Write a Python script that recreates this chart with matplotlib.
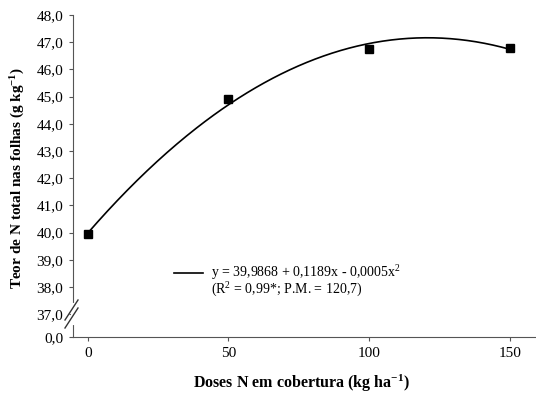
import numpy as np
import matplotlib.pyplot as plt
from matplotlib.lines import Line2D

# dados
doses = np.array([0, 50, 100, 150])
teor_n = np.array([39.95, 44.9, 46.75, 46.8])

# coeficientes da regressao (y = b0 + b1 x - b2 x^2), P.M. = 120,7
b0 = 39.9868
b1 = 0.1189
pm = 120.7
b2 = b1 / (2 * pm)

yticks = [37, 38, 39, 40, 41, 42, 43, 44, 45, 46, 47, 48]
ybase = 36.16  # posicao do 0,0 (eixo quebrado)

plt.rcParams['font.family'] = ['Liberation Serif', 'DejaVu Serif']
plt.rcParams['mathtext.fontset'] = 'custom'
plt.rcParams['mathtext.rm'] = 'Liberation Serif'
plt.rcParams['mathtext.it'] = 'Liberation Serif:italic'
plt.rcParams['mathtext.bf'] = 'Liberation Serif:bold'

W, H = 536, 396
fig = plt.figure(figsize=(W / 100, H / 100), dpi=100)
ax = fig.add_axes([73 / W, 1 - 337 / H, 462 / W, 322 / H])

xc = np.linspace(0, 150, 300)
ax.plot(xc, b0 + b1 * xc - b2 * xc ** 2, color='black', lw=1.2)
ax.plot(doses, teor_n, 's', color='black', ms=6)

ax.set_xlim(-5.3, 159)
ax.set_ylim(ybase, 48)
ax.set_xticks([0, 50, 100, 150])
ax.set_yticks([ybase] + yticks)
ax.set_yticklabels(['0,0'] + [('%.1f' % v).replace('.', ',') for v in yticks])
ax.tick_params(labelsize=11, direction='out', length=3, color='#555555', pad=4)
for s in ['top', 'right']:
    ax.spines[s].set_visible(False)
for s in ['left', 'bottom']:
    ax.spines[s].set_color('#555555')


def fpt(x, y):
    return x / W, 1 - y / H


# marca de quebra no eixo y
gx, gy = zip(fpt(73, 305), fpt(73, 323))
fig.add_artist(Line2D(gx, gy, color='white', lw=3, transform=fig.transFigure, zorder=5))
for off in [0, 8]:
    lx, ly = zip(fpt(65, 320 + off), fpt(78, 300 + off))
    fig.add_artist(Line2D(lx, ly, color='#333333', lw=1, transform=fig.transFigure, zorder=6))

fig.text(301 / W, 1 - 383 / H, 'Doses N em cobertura (kg ha$^{\\mathbf{-1}}$)',
         fontweight='bold', fontsize=11.5, ha='center', va='center')
fig.text(18 / W, 1 - 178 / H, 'Teor de N total nas folhas (g kg$^{\\mathbf{-1}}$)',
         fontweight='bold', fontsize=11, ha='center', va='center', rotation=90)

# legenda
lx, ly = zip(fpt(174, 273), fpt(203, 273))
fig.add_artist(Line2D(lx, ly, color='black', lw=1.2, transform=fig.transFigure))
fig.text(211 / W, 1 - 273 / H, 'y = 39,9868 + 0,1189x - 0,0005x$^2$', fontsize=10, va='center')
fig.text(211 / W, 1 - 290 / H, '(R$^2$ = 0,99*; P.M. = 120,7)', fontsize=10, va='center')

fig.savefig('out.png', dpi=100)
